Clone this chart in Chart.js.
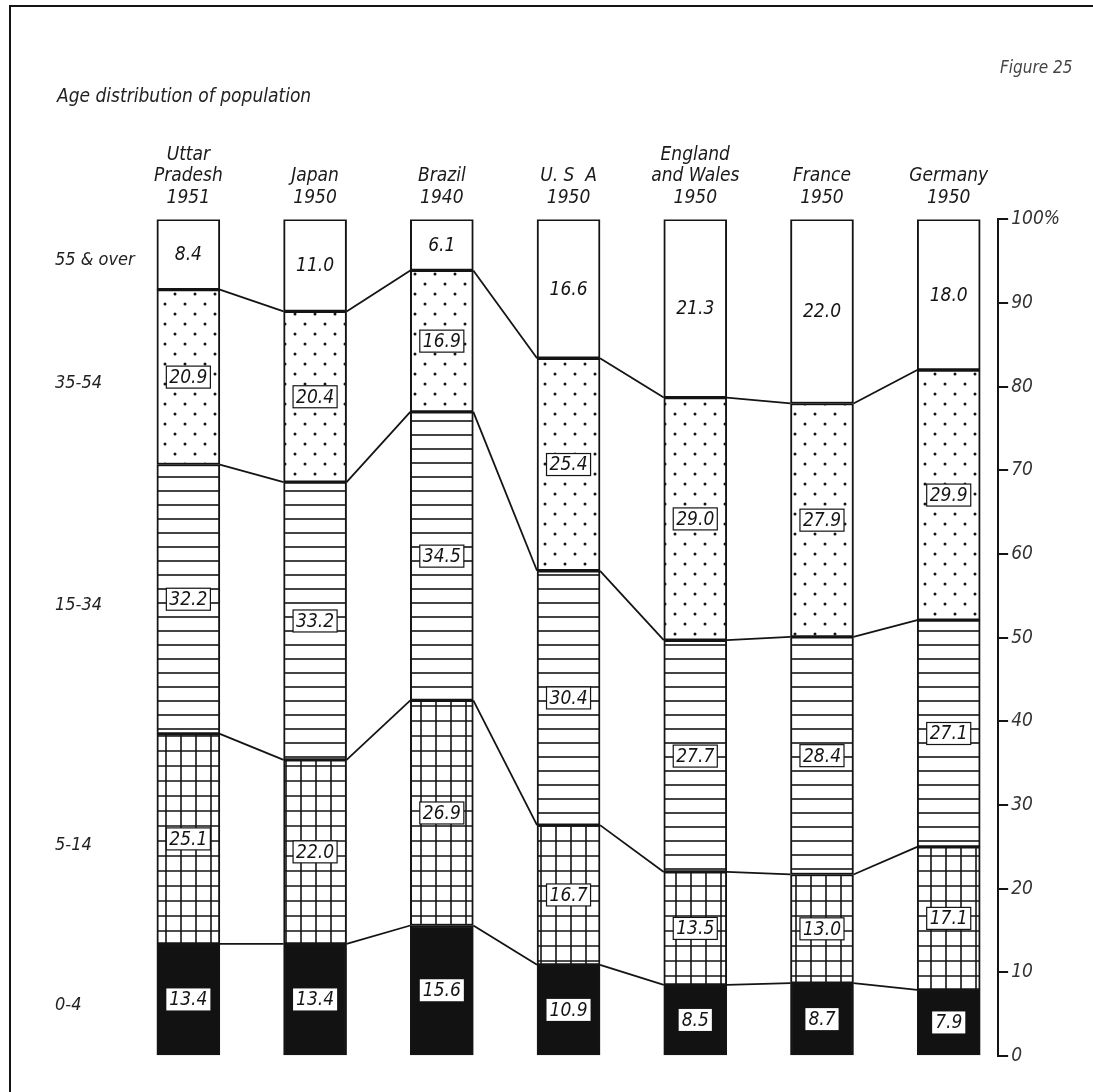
<!DOCTYPE html>
<html>
<head>
<meta charset="utf-8">
<title>Age distribution of population</title>
<script src="https://cdn.jsdelivr.net/npm/chart.js@4.4.1/dist/chart.umd.min.js"></script>
<style>
  html, body { margin: 0; padding: 0; background: #fff; }
  #wrap { width: 1093px; height: 1092px; position: relative; }
</style>
</head>
<body>
<div id="wrap"><canvas id="ageChart" width="1093" height="1092"></canvas></div>
<script>
// country / year labels (multi-line, drawn by the top axis)
const countries = [
  ['Uttar', 'Pradesh', '1951'],
  ['Japan', '1950'],
  ['Brazil', '1940'],
  ['U. S  A', '1950'],
  ['England', 'and Wales', '1950'],
  ['France', '1950'],
  ['Germany', '1950']
];
const ageGroups = ['0-4', '5-14', '15-34', '35-54', '55 & over'];

// percent of population in each age group
const age0to4   = [13.4, 13.4, 15.6, 10.9, 8.5, 8.7, 7.9];
const age5to14  = [25.1, 22.0, 26.9, 16.7, 13.5, 13.0, 17.1];
const age15to34 = [32.2, 33.2, 34.5, 30.4, 27.7, 28.4, 27.1];
const age35to54 = [20.9, 20.4, 16.9, 25.4, 29.0, 27.9, 29.9];
const age55over = [8.4, 11.0, 6.1, 16.6, 21.3, 22.0, 18.0];

const FONT = "'Liberation Sans Narrow', 'DejaVu Sans Condensed', 'Liberation Sans', sans-serif";
const INK = '#141414';

function makePattern(w, h, draw) {
  const c = document.createElement('canvas');
  c.width = w; c.height = h;
  const g = c.getContext('2d');
  g.fillStyle = '#fff';
  g.fillRect(0, 0, w, h);
  g.strokeStyle = INK;
  g.fillStyle = INK;
  draw(g, w, h);
  return g.createPattern(c, 'repeat');
}

const gridFill = makePattern(15, 15, (g, w, h) => {
  g.lineWidth = 1.6;
  g.beginPath();
  g.moveTo(1, 0); g.lineTo(1, h);
  g.moveTo(0, 1); g.lineTo(w, 1);
  g.stroke();
});
const stripeFill = makePattern(10, 14, (g, w) => {
  g.lineWidth = 1.6;
  g.beginPath();
  g.moveTo(0, 1); g.lineTo(w, 1);
  g.stroke();
});
const dotFill = makePattern(20, 20, (g) => {
  g.beginPath(); g.arc(5, 4, 1.5, 0, Math.PI * 2); g.fill();
  g.beginPath(); g.arc(15, 14, 1.5, 0, Math.PI * 2); g.fill();
});

const fills = ['#121212', gridFill, stripeFill, dotFill, '#ffffff'];
const series = [age0to4, age5to14, age15to34, age35to54, age55over];

const toPoints = arr => arr.map((v, i) => ({ x: i, y: v }));

// value labels, row labels on the left, connecting lines between bars
const barDecor = {
  id: 'barDecor',
  afterDatasetsDraw(chart) {
    const ctx = chart.ctx;
    ctx.save();
    // connecting lines at each group boundary
    ctx.strokeStyle = INK;
    ctx.lineWidth = 1.8;
    for (let d = 0; d < 4; d++) {
      const bars = chart.getDatasetMeta(d).data;
      for (let i = 0; i < bars.length - 1; i++) {
        const a = bars[i], b = bars[i + 1];
        ctx.beginPath();
        ctx.moveTo(a.x + a.width / 2, a.y);
        ctx.lineTo(b.x - b.width / 2, b.y);
        ctx.stroke();
      }
    }
    // values inside the segments
    ctx.font = 'italic 19px ' + FONT;
    ctx.textAlign = 'center';
    ctx.textBaseline = 'middle';
    chart.data.datasets.forEach((ds, d) => {
      chart.getDatasetMeta(d).data.forEach((bar, i) => {
        const txt = ds.data[i].y.toFixed(1);
        const cy = (bar.y + bar.base) / 2;
        const tw = ctx.measureText(txt).width;
        if (d < 4) {
          ctx.fillStyle = '#fff';
          ctx.fillRect(bar.x - tw / 2 - 3, cy - 11, tw + 6, 22);
          if (d > 0) {
            ctx.lineWidth = 1.2;
            ctx.strokeRect(bar.x - tw / 2 - 3, cy - 11, tw + 6, 22);
          }
        }
        ctx.fillStyle = INK;
        ctx.fillText(txt, bar.x, cy + 1);
      });
      // row label left of the first bar
      const first = chart.getDatasetMeta(d).data[0];
      ctx.save();
      ctx.textAlign = 'left';
      ctx.fillStyle = '#222';
      ctx.font = 'italic 18px ' + FONT;
      ctx.fillText(ageGroups[d], 55, (first.y + first.base) / 2 + 6);
      ctx.restore();
    });
    ctx.restore();
  },
  afterDraw(chart) {
    const ctx = chart.ctx;
    ctx.save();
    // frame
    ctx.strokeStyle = INK;
    ctx.lineWidth = 2;
    ctx.beginPath();
    ctx.moveTo(10, 1092); ctx.lineTo(10, 6); ctx.lineTo(1093, 6);
    ctx.stroke();
    ctx.fillStyle = '#222';
    ctx.textBaseline = 'middle';
    ctx.font = 'italic 19px ' + FONT;
    ctx.fillText('Age distribution of population', 57, 97);
    ctx.fillStyle = '#444';
    ctx.font = 'italic 17px ' + FONT;
    ctx.fillText('Figure 25', 1000, 69);
    ctx.restore();
  }
};

new Chart(document.getElementById('ageChart'), {
  type: 'bar',
  data: {
    datasets: series.map((vals, d) => ({
      label: ageGroups[d],
      data: toPoints(vals),
      backgroundColor: fills[d],
      borderColor: INK,
      borderWidth: 2,
      borderSkipped: false,
      barThickness: 63
    }))
  },
  options: {
    responsive: false,
    animation: false,
    layout: { padding: { left: 125, right: 30, top: 133, bottom: 36 } },
    plugins: {
      legend: { display: false },
      tooltip: { enabled: false }
    },
    scales: {
      x: {
        type: 'linear',
        position: 'top',
        stacked: true,
        offset: false,
        min: -0.5,
        max: 6.39,
        grid: { display: false, drawTicks: false },
        border: { display: false },
        afterBuildTicks: axis => { axis.ticks = countries.map((c, i) => ({ value: i })); },
        ticks: {
          autoSkip: false,
          maxRotation: 0,
          padding: 11,
          color: '#1a1a1a',
          font: { family: FONT, size: 19, style: 'italic', lineHeight: 1.13 },
          callback: v => countries[v] || ''
        }
      },
      y: {
        position: 'right',
        stacked: true,
        min: 0,
        max: 100,
        grid: { drawOnChartArea: false, drawTicks: true, tickLength: 10, color: INK, lineWidth: 2 },
        border: { display: true, color: INK, width: 2 },
        ticks: {
          stepSize: 10,
          padding: 3,
          color: '#333',
          font: { family: FONT, size: 19, style: 'italic' },
          callback: v => v === 100 ? '100%' : v
        }
      }
    }
  },
  plugins: [barDecor]
});
</script>
</body>
</html>
